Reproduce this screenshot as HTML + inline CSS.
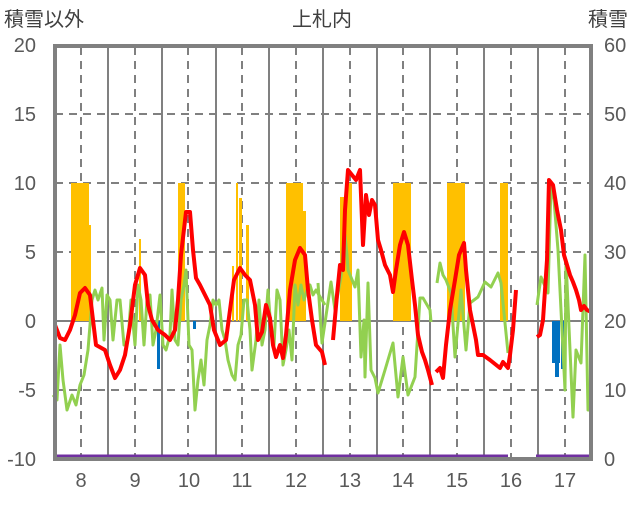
<!DOCTYPE html>
<html><head><meta charset="utf-8"><style>
body{margin:0;background:#fff;width:636px;height:501px;overflow:hidden}
text{font-family:"Liberation Sans","Noto Sans CJK JP",sans-serif;fill:#595959}
</style></head><body>
<svg width="636" height="501" xmlns="http://www.w3.org/2000/svg">
<g font-size="20" style="fill:#404040">
<text x="4" y="26" style="fill:#404040">積雪以外</text>
<text x="322" y="26" text-anchor="middle" style="fill:#404040">上札内</text>
<text x="588" y="26" style="fill:#404040">積雪</text>
</g>
<g font-size="20" text-anchor="end">
<text x="36" y="52">20</text><text x="36" y="121">15</text><text x="36" y="190">10</text>
<text x="36" y="259">5</text><text x="36" y="328">0</text><text x="36" y="397">-5</text><text x="36" y="466">-10</text>
</g>
<g font-size="20">
<text x="604" y="52">60</text><text x="604" y="121">50</text><text x="604" y="190">40</text>
<text x="604" y="259">30</text><text x="604" y="328">20</text><text x="604" y="397">10</text><text x="604" y="466">0</text>
</g>
<g font-size="20" text-anchor="middle">
<text x="81" y="487">8</text><text x="135" y="487">9</text><text x="189" y="487">10</text><text x="242" y="487">11</text><text x="296" y="487">12</text>
<text x="350" y="487">13</text><text x="403" y="487">14</text><text x="457" y="487">15</text><text x="511" y="487">16</text><text x="565" y="487">17</text>
</g>
<g stroke="#808080" stroke-width="2" stroke-dasharray="8,6">
<line x1="55" y1="114" x2="591" y2="114"/><line x1="55" y1="183" x2="591" y2="183"/>
<line x1="55" y1="252" x2="591" y2="252"/><line x1="55" y1="390" x2="591" y2="390"/>
<line x1="81" y1="47" x2="81" y2="458"/><line x1="135" y1="47" x2="135" y2="458"/><line x1="188" y1="47" x2="188" y2="458"/>
<line x1="242" y1="47" x2="242" y2="458"/><line x1="296" y1="47" x2="296" y2="458"/><line x1="350" y1="47" x2="350" y2="458"/>
<line x1="403" y1="47" x2="403" y2="458"/><line x1="457" y1="47" x2="457" y2="458"/><line x1="511" y1="47" x2="511" y2="458"/><line x1="565" y1="47" x2="565" y2="458"/>
</g>
<g stroke="#808080" stroke-width="2">
<line x1="108" y1="47" x2="108" y2="458"/><line x1="162" y1="47" x2="162" y2="458"/><line x1="216" y1="47" x2="216" y2="458"/>
<line x1="269" y1="47" x2="269" y2="458"/><line x1="323" y1="47" x2="323" y2="458"/><line x1="377" y1="47" x2="377" y2="458"/>
<line x1="430" y1="47" x2="430" y2="458"/><line x1="484" y1="47" x2="484" y2="458"/><line x1="538" y1="47" x2="538" y2="458"/>
<line x1="55" y1="321" x2="591" y2="321"/>
</g>
<g fill="#ffc000">
<rect x="71" y="183" width="18" height="138"/><rect x="88" y="225" width="3" height="96"/>
<rect x="139" y="239" width="2" height="82"/><rect x="178" y="183" width="7" height="138"/>
<rect x="232" y="266" width="2" height="55"/><rect x="236" y="183" width="2" height="138"/><rect x="239" y="198" width="3" height="123"/>
<rect x="246" y="225" width="3" height="96"/><rect x="286" y="183" width="17" height="138"/><rect x="303" y="211" width="3" height="110"/>
<rect x="340" y="197" width="5" height="124"/><rect x="345" y="183" width="7" height="138"/>
<rect x="393" y="183" width="18" height="138"/><rect x="447" y="183" width="18" height="138"/><rect x="500" y="183" width="8" height="138"/>
</g>
<g fill="#0070c0">
<rect x="157" y="321" width="3" height="48"/><rect x="193" y="321" width="3" height="8"/>
<rect x="552" y="321" width="8" height="42"/><rect x="555" y="321" width="4" height="56"/><rect x="561" y="321" width="3" height="48"/>
</g>
<g fill="none" stroke="#92d050" stroke-width="3" stroke-linejoin="round">
<polyline points="53,395 57,400 60,345 63,380 67,410 72,395 76,405 80,385 84,375 88,350 92,300 95,290 98,300 102,288 104,340 107,295 110,300 113,340 117,300 120,300 124,345 128,340 131,300 135,345 138,285 141,300 144,345 147,300 150,295 153,345 156,330 160,295 163,345 166,350 170,335 172,290 175,340 178,345 181,300 184,285 186,270 189,345 192,350 195,410 198,380 201,360 204,385 207,340 210,325 213,300 216,305 219,300 222,330 225,340 228,360 232,375 235,380 238,345 241,335 244,300 247,300 250,330 252,370 256,340 259,300 262,345 265,330 268,290 271,330 274,345 277,290 280,300 283,365 286,350 289,330 292,360 295,285 298,305 301,285 304,300 307,290 310,285 313,295 316,290 319,295 322,300 325,305"/>
<polyline points="318,283 322,343 331,282 335,310 341,277 343,250 345,235 347,255 348,270 355,287 358,270 361,357 364,320 365,377 368,283 371,370 375,378 378,393 385,370 393,343 398,397 403,357 408,395 415,377 420,298 423,298 430,310 431,322"/>
<polyline points="437,283 440,263 443,275 446,280 451,293 455,357 461,290 466,350 470,303 478,297 485,282 491,287 498,273 501,283 508,353"/>
<polyline points="537,305 541,277 548,293 551,185 554,200 558,250 565,390 566,260 573,417 576,350 581,363 585,255 588,410 590,410"/>
</g>
<g fill="none" stroke="#ff0000" stroke-width="4" stroke-linejoin="round">
<polyline points="55,325 60,338 65,340 70,330 75,315 80,293 85,288 90,295 93,320 96,345 105,350 110,365 115,378 120,370 125,355 130,325 135,285 140,268 145,275 148,305 152,320 158,330 165,335 170,340 175,330 178,300 181,255 186,212 190,212 193,250 196,278 200,285 205,295 210,305 214,330 220,345 226,340 230,310 234,280 240,268 245,275 250,280 255,305 258,340 262,332 266,305 270,318 273,345 276,357 280,345 283,358 286,335 290,290 295,260 300,248 305,255 308,290 312,320 316,345 322,352 325,365"/>
<polyline points="333,340 337,295 340,265 343,270 345,210 348,170 352,175 356,180 360,170 363,245 366,195 369,215 372,200 375,205 378,240 381,250 385,265 390,275 393,292 396,270 400,245 404,232 408,245 412,280 415,305 418,335 422,352 425,360 428,370 432,385"/>
<polyline points="436,372 440,368 443,378 446,345 450,310 455,280 459,255 464,243 466,270 470,310 476,340 478,355 483,355 490,360 495,364 500,368 503,362 508,368 510,355 513,330 516,290"/>
<polyline points="537,337 540,335 543,320 547,260 549,180 553,185 557,210 561,230 564,255 567,265 570,275 573,282 576,290 579,300 581,310 584,306 587,310 591,312"/>
</g>
<g stroke="#7030a0" stroke-width="5">
<line x1="55" y1="457" x2="508" y2="457"/><line x1="536" y1="457" x2="591" y2="457"/>
</g>
<rect x="55" y="46" width="536" height="413" fill="none" stroke="#808080" stroke-width="4"/>
</svg>
</body></html>
